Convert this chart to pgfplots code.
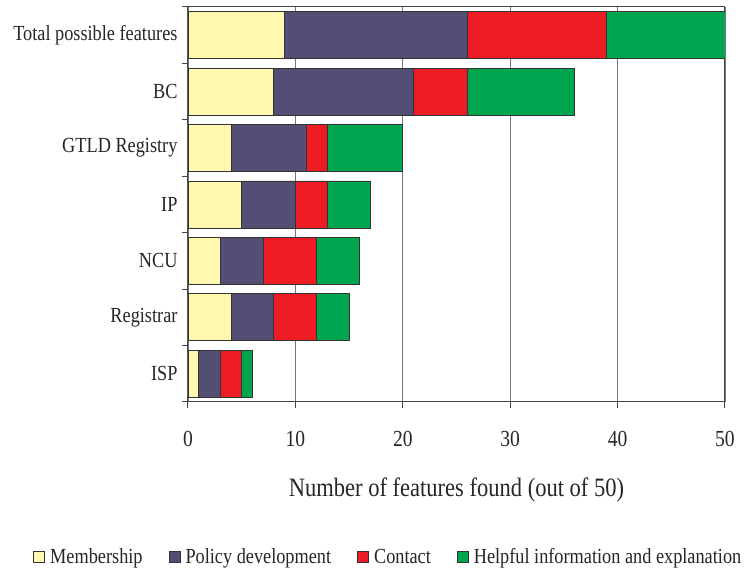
\documentclass[border=0pt]{standalone}
\usepackage{fontspec}
\setmainfont{Liberation Serif}[FakeStretch=0.85]
\usepackage{pgfplots}
\pgfplotsset{compat=1.18}
\definecolor{cMem}{HTML}{FFF8B0}
\definecolor{cPol}{HTML}{544E75}
\definecolor{cCon}{HTML}{ED1C24}
\definecolor{cHel}{HTML}{00A550}
\definecolor{cAx}{HTML}{444444}
\definecolor{cGr}{HTML}{777777}
\begin{document}
\begin{tikzpicture}[x=1pt,y=1pt]
\path[use as bounding box] (0,0) rectangle (748,572);
\begin{axis}[
  at={(188pt,170pt)}, anchor=south west,
  width=537pt, height=395pt, scale only axis,
  xbar stacked, bar width=47pt,
  xmin=0, xmax=50, ymin=-0.5, ymax=6.5,
  xtick={0,10,20,30,40,50},
  xtick pos=bottom, ytick pos=left,
  tick align=outside, major tick length=6pt,
  ytick={-0.5,0.5,1.5,2.5,3.5,4.5,5.5,6.5},
  yticklabels={},
  extra y ticks={0,1,2,3,4,5,6},
  extra y tick labels={ISP,Registrar,NCU,IP,GTLD Registry,BC,Total possible features},
  extra y tick style={major tick length=0pt, tick style={draw=none},
    yticklabel style={xshift=-7pt, font=\fontsize{21.5}{25}\selectfont}},
  xmajorgrids=true,
  grid style={cGr, line width=0.9pt},
  axis line style={cAx, line width=1pt},
  tick style={cAx, line width=1pt},
  /pgf/number format/assume math mode=true,
  ticklabel style={font=\fontsize{23}{27}\selectfont, text=black!85},
  xticklabel style={yshift=-20pt},
  xlabel={Number of features found (out of 50)},
  xlabel style={font=\fontsize{26.5}{31}\selectfont, text=black!85,
    at={(axis description cs:0.5,0)}, anchor=base, yshift=-95pt},
  legend columns=4,
  legend style={at={(axis description cs:0.373,-0.392)}, anchor=center,
    draw=none, font=\fontsize{21.5}{25}\selectfont, text=black!85,
    /tikz/every even column/.append style={column sep=24pt}},
  legend image code/.code={\draw[#1] (0pt,-5.5pt) rectangle (11pt,5.5pt);
    \path (14pt,0pt);},
  every axis plot/.append style={draw=black!80, line width=0.9pt},
]
\addplot[fill=cMem] coordinates {(1,0) (4,1) (3,2) (5,3) (4,4) (8,5) (9,6)};
\addplot[fill=cPol] coordinates {(2,0) (4,1) (4,2) (5,3) (7,4) (13,5) (17,6)};
\addplot[fill=cCon] coordinates {(2,0) (4,1) (5,2) (3,3) (2,4) (5,5) (13,6)};
\addplot[fill=cHel] coordinates {(1,0) (3,1) (4,2) (4,3) (7,4) (10,5) (11,6)};
\legend{Membership, Policy development, Contact, Helpful information and explanation}
\end{axis}
\end{tikzpicture}
\end{document}
